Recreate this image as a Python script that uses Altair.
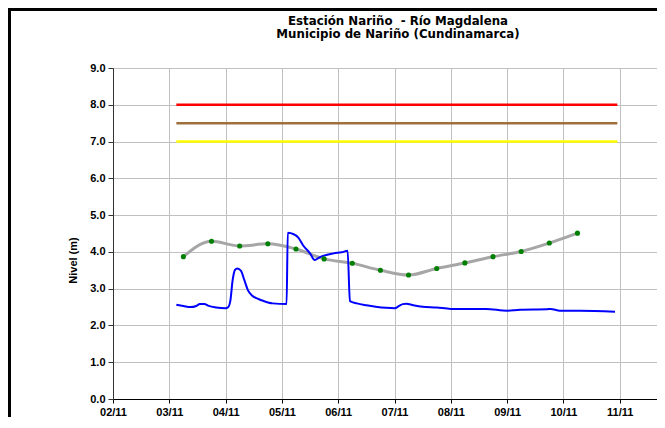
import altair as alt
import pandas as pd

# Blue series: observed level (m)
blue_times = [
    "2010-11-03T03:00:00Z", "2010-11-03T06:00:00Z", "2010-11-03T09:00:00Z", "2010-11-03T11:30:00Z",
    "2010-11-03T13:00:00Z", "2010-11-03T15:00:00Z", "2010-11-03T16:30:00Z", "2010-11-03T20:00:00Z",
    "2010-11-04T00:00:00Z", "2010-11-04T01:00:00Z", "2010-11-04T02:00:00Z", "2010-11-04T03:00:00Z",
    "2010-11-04T04:00:00Z", "2010-11-04T05:00:00Z", "2010-11-04T06:30:00Z", "2010-11-04T08:00:00Z",
    "2010-11-04T09:30:00Z", "2010-11-04T11:30:00Z", "2010-11-04T14:00:00Z", "2010-11-04T16:00:00Z",
    "2010-11-04T20:00:00Z", "2010-11-05T02:00:00Z", "2010-11-05T02:30:00Z", "2010-11-05T05:00:00Z",
    "2010-11-05T07:00:00Z", "2010-11-05T09:00:00Z", "2010-11-05T12:00:00Z", "2010-11-05T14:00:00Z",
    "2010-11-05T16:00:00Z", "2010-11-05T17:30:00Z", "2010-11-05T22:00:00Z", "2010-11-06T01:30:00Z",
    "2010-11-06T04:00:00Z", "2010-11-06T05:00:00Z", "2010-11-06T08:00:00Z", "2010-11-06T12:00:00Z",
    "2010-11-06T16:00:00Z", "2010-11-06T20:30:00Z", "2010-11-07T00:00:00Z", "2010-11-07T02:00:00Z",
    "2010-11-07T03:30:00Z", "2010-11-07T05:00:00Z", "2010-11-07T08:00:00Z", "2010-11-07T12:00:00Z",
    "2010-11-07T18:00:00Z", "2010-11-08T00:00:00Z", "2010-11-08T05:00:00Z", "2010-11-08T15:00:00Z",
    "2010-11-09T00:00:00Z", "2010-11-09T05:30:00Z", "2010-11-09T17:00:00Z", "2010-11-09T18:30:00Z",
    "2010-11-09T22:30:00Z", "2010-11-10T07:00:00Z", "2010-11-10T22:00:00Z",
]
blue_levels = [
    2.56, 2.53, 2.50, 2.53,
    2.58, 2.58, 2.54, 2.49,
    2.47, 2.49, 2.66, 3.23,
    3.51, 3.55, 3.49, 3.23,
    2.96, 2.80, 2.72, 2.67,
    2.60, 2.58, 4.52, 4.48,
    4.39, 4.18, 3.96, 3.78,
    3.85, 3.89, 3.96, 3.99,
    4.03, 2.66, 2.60, 2.55,
    2.51, 2.48, 2.47, 2.53,
    2.58, 2.59, 2.55, 2.51,
    2.49, 2.45, 2.45, 2.45,
    2.40, 2.43, 2.44, 2.45,
    2.40, 2.40, 2.37,
]

# Gray series with green markers: forecast level (m)
gray_times = [
    "2010-11-03T06:00:00Z", "2010-11-03T18:00:00Z", "2010-11-04T06:00:00Z", "2010-11-04T18:00:00Z",
    "2010-11-05T06:00:00Z", "2010-11-05T18:00:00Z", "2010-11-06T06:00:00Z", "2010-11-06T18:00:00Z",
    "2010-11-07T06:00:00Z", "2010-11-07T18:00:00Z", "2010-11-08T06:00:00Z", "2010-11-08T18:00:00Z",
    "2010-11-09T06:00:00Z", "2010-11-09T18:00:00Z", "2010-11-10T06:00:00Z",
]
gray_levels = [
    3.87, 4.29, 4.16, 4.22,
    4.08, 3.81, 3.69, 3.50,
    3.37, 3.55, 3.70, 3.87,
    4.01, 4.24, 4.51,
]

# Alert thresholds
thr_levels = [8.0, 7.5, 7.0]
thr_names = ["roja", "naranja", "amarilla"]
thr_colors = ["#ff0000", "#a0703c", "#ffff00"]
thr_start = "2010-11-03T03:00:00Z"
thr_end = "2010-11-10T23:00:00Z"

y_ticks = [0, 1, 2, 3, 4, 5, 6, 7, 8, 9]
x_tick_days = [2, 3, 4, 5, 6, 7, 8, 9, 10, 11]
x_domain_start = "2010-11-02T00:00:00Z"
x_domain_end = "2010-11-11T15:54:00Z"   # the original chart is cropped here

title_lines = ["Estación Nariño\u00a0 - Río Magdalena", "Municipio de Nariño (Cundinamarca)"]

FONT = "Liberation Sans"
TITLE_FONT = "DejaVu Sans"
W, H = 544, 331

blue_df = pd.DataFrame({"t": blue_times, "v": blue_levels})
gray_df = pd.DataFrame({"t": gray_times, "v": gray_levels})
thr_df = pd.DataFrame({
    "t": [thr_start] * 3, "t2": [thr_end] * 3,
    "v": thr_levels, "name": thr_names, "color": thr_colors,
})

x_values = [alt.DateTime(year=2010, month=11, date=d, utc=True) for d in x_tick_days]
x_scale = alt.Scale(type="utc", domain=[x_domain_start, x_domain_end])
y_scale = alt.Scale(domain=[0, 9], nice=False, zero=True)

x_axis = alt.Axis(
    values=x_values, tickCount=20, format="%d/%m", title=None, grid=True,
    labelFont=FONT, labelFontSize=11, labelFontWeight="bold", labelColor="#000000",
    tickSize=4, labelPadding=3, domainColor="#000000", tickColor="#000000",
    gridColor="#c0c0c0", labelOverlap=False, labelFlush=False,
)
y_axis = alt.Axis(
    values=y_ticks, tickCount=20, format=".1f", title="Nivel (m)", grid=True,
    labelOverlap=False,
    labelFont=FONT, labelFontSize=11, labelFontWeight="bold", labelColor="#000000",
    tickSize=5, labelPadding=3, domainColor="#333333", tickColor="#333333",
    gridColor="#c0c0c0",
    titleFont=FONT, titleFontSize=11, titleFontWeight="bold", titleColor="#000000",
    titleX=-40, titleY=192, titleAlign="center", titleBaseline="middle", titleAngle=270,
)

X = alt.X("t:T", scale=x_scale, axis=x_axis)
Y = alt.Y("v:Q", scale=y_scale, axis=y_axis)

thr = alt.Chart(thr_df).mark_rule(strokeWidth=2.5).encode(
    x=X, x2="t2:T", y=Y,
    color=alt.Color("color:N", scale=None),
)

gray_line = alt.Chart(gray_df).mark_line(
    color="#a6a6a6", strokeWidth=3, interpolate="monotone"
).encode(x=X, y=Y)

blue_line = alt.Chart(blue_df).mark_line(
    color="#0000ff", strokeWidth=2, interpolate="monotone"
).encode(x=X, y=Y)

dots = alt.Chart(gray_df).mark_circle(
    color="#008000", size=26, opacity=1
).encode(x=X, y=Y)

one = pd.DataFrame({"a": [0]})
left_border = alt.Chart(one).mark_rule(color="#000000", strokeWidth=3).encode(
    x=alt.value(-103.5), y=alt.value(-60), y2=alt.value(H + 40)
)
top_border = alt.Chart(one).mark_rule(color="#000000", strokeWidth=3).encode(
    x=alt.value(-105), x2=alt.value(W + 10), y=alt.value(-58.5)
)

title1 = alt.Chart(pd.DataFrame({"line": [title_lines[0]]})).mark_text(
    font=TITLE_FONT, fontSize=11.8, fontWeight="bold", color="#000000",
    align="center", baseline="alphabetic",
).encode(x=alt.value(285), y=alt.value(-43.3), text="line:N")
title2 = alt.Chart(pd.DataFrame({"line": [title_lines[1]]})).mark_text(
    font=TITLE_FONT, fontSize=11.8, fontWeight="bold", color="#000000",
    align="center", baseline="alphabetic",
).encode(x=alt.value(285), y=alt.value(-30.5), text="line:N")

chart = alt.layer(
    thr, gray_line, blue_line, dots, left_border, top_border, title1, title2
).properties(
    width=W,
    height=H,
    autosize=alt.AutoSizeParams(type="none"),
    padding={"left": 105, "top": 60, "right": 0, "bottom": 18},
).configure_view(stroke=None).configure(background="#ffffff")

chart.save("out.html", embed_options={"renderer": "svg", "actions": False})
